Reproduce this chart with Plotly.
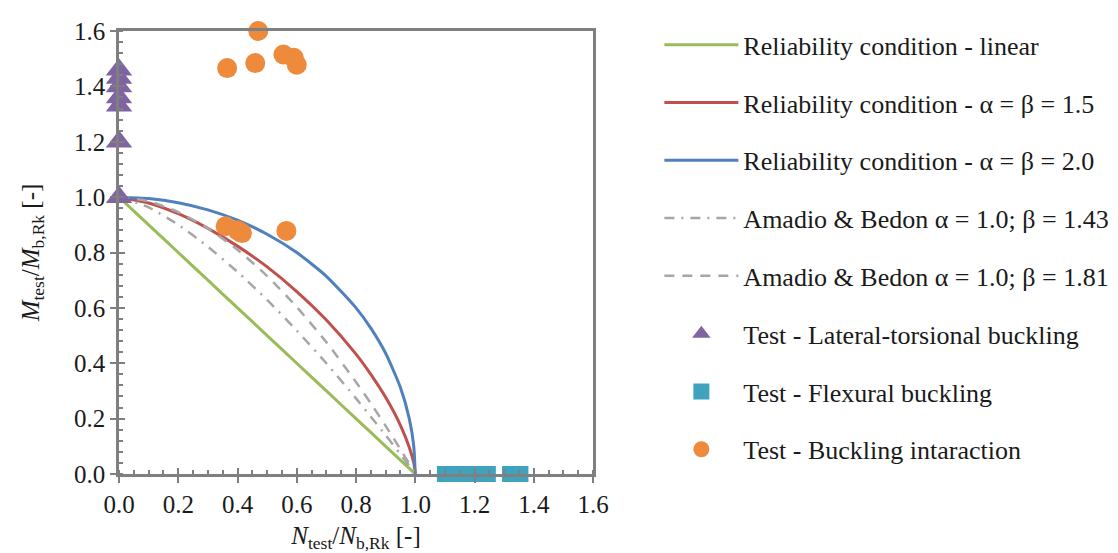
import plotly.graph_objects as go

# ---- data ----
n_curve = [0.0, 0.1, 0.2, 0.3, 0.4, 0.5, 0.6, 0.7, 0.8, 0.85, 0.9, 0.95, 0.98, 0.995, 1.0]
m_linear = [1.0, 0.9, 0.8, 0.7, 0.6, 0.5, 0.4, 0.3, 0.2, 0.15, 0.1, 0.05, 0.02, 0.005, 0.0]
m_ab15 = [1.0, 0.979, 0.940, 0.887, 0.823, 0.748, 0.659, 0.556, 0.433, 0.360, 0.277, 0.176, 0.096, 0.040, 0.0]
m_ab20 = [1.0, 0.995, 0.980, 0.954, 0.917, 0.866, 0.800, 0.714, 0.600, 0.527, 0.436, 0.312, 0.199, 0.100, 0.0]
m_b143 = [1.0, 0.963, 0.900, 0.821, 0.730, 0.629, 0.518, 0.400, 0.273, 0.207, 0.140, 0.071, 0.029, 0.007, 0.0]
m_b181 = [1.0, 0.985, 0.946, 0.887, 0.810, 0.715, 0.603, 0.476, 0.332, 0.255, 0.174, 0.089, 0.036, 0.009, 0.0]

ltb_n = [0.0, 0.0, 0.0, 0.0, 0.0, 0.0, 0.0]
ltb_m = [1.0, 1.2, 1.33, 1.36, 1.40, 1.43, 1.46]

flex_n = [1.10, 1.13, 1.16, 1.19, 1.22, 1.245, 1.32, 1.355]
flex_m = [0.0, 0.0, 0.0, 0.0, 0.0, 0.0, 0.0, 0.0]

inter_n = [0.47, 0.365, 0.46, 0.555, 0.59, 0.60, 0.36, 0.40, 0.415, 0.565]
inter_m = [1.60, 1.466, 1.484, 1.515, 1.503, 1.478, 0.895, 0.88, 0.87, 0.878]

labels = [
    "Reliability condition - linear",
    "Reliability condition - α = β = 1.5",
    "Reliability condition - α = β = 2.0",
    "Amadio & Bedon α = 1.0; β = 1.43",
    "Amadio & Bedon α = 1.0; β = 1.81",
    "Test - Lateral-torsional buckling",
    "Test - Flexural buckling",
    "Test - Buckling intaraction",
]

FONT = "Liberation Serif, Times New Roman, serif"
AX = "#7f7f7f"
TXT = "#1a1a1a"

fig = go.Figure()

def line(y, name, color, dash="solid", width=3):
    fig.add_trace(go.Scatter(
        x=n_curve, y=y, name=name, mode="lines", legendgroup=name,
        line=dict(color=color, width=width, dash=dash, shape="spline", smoothing=0.6),
        cliponaxis=False))

line(m_linear, labels[0], "#9BBB59")
line(m_ab15, labels[1], "#C0504D")
line(m_ab20, labels[2], "#4F81BD")
line(m_b143, labels[3], "#A6A6A6", dash="10px,7px,2px,7px", width=2.5)
line(m_b181, labels[4], "#A6A6A6", dash="10px,8px", width=2.5)

fig.add_trace(go.Scatter(x=ltb_n, y=ltb_m, name=labels[5], mode="markers", legendgroup=labels[5],
                         marker=dict(symbol="triangle-up", size=23, color="#8064A2"), cliponaxis=False))
fig.add_trace(go.Scatter(x=flex_n, y=flex_m, name=labels[6], mode="markers", legendgroup=labels[6],
                         marker=dict(symbol="square", size=16, color="#3FA3BD"), cliponaxis=False))
fig.add_trace(go.Scatter(x=inter_n, y=inter_m, name=labels[7], mode="markers", legendgroup=labels[7],
                         marker=dict(symbol="circle", size=20, color="#EE8A3C"), cliponaxis=False))

axis_common = dict(
    range=[0, 1.6], dtick=0.2, tickformat=".1f", showgrid=False, zeroline=False,
    showline=True, linecolor=AX, linewidth=2.5, mirror=True, automargin=False,
    ticks="outside", ticklen=6, tickwidth=2, tickcolor=AX,
    tickfont=dict(family=FONT, size=25, color=TXT),
)

fig.update_layout(
    width=1118, height=553,
    paper_bgcolor="white", plot_bgcolor="white",
    margin=dict(l=111, r=533, t=23, b=87),
    font=dict(family=FONT, size=26, color=TXT),
    xaxis=dict(**axis_common,
               minor=dict(dtick=0.05, ticks="inside", ticklen=4, tickwidth=1.5, tickcolor=AX),
               title=dict(text="<i>N</i><sub>test</sub>/<i>N</i><sub>b,Rk</sub> [-]",
                          font=dict(family=FONT, size=25, color=TXT), standoff=10)),
    yaxis=dict(**axis_common,
               minor=dict(dtick=0.04, ticks="inside", ticklen=4, tickwidth=1.5, tickcolor=AX),
               title=dict(text="<i>M</i><sub>test</sub>/<i>M</i><sub>b,Rk</sub> [-]",
                          font=dict(family=FONT, size=25, color=TXT), standoff=28)),
    xaxis2=dict(overlaying="x", range=[0, 1.6], dtick=0.2, showgrid=False, zeroline=False,
                showticklabels=False, ticks="inside", ticklen=6, tickwidth=2, tickcolor=AX,
                showline=False, side="bottom", automargin=False),
    yaxis2=dict(overlaying="y", range=[0, 1.6], dtick=0.2, showgrid=False, zeroline=False,
                showticklabels=False, ticks="inside", ticklen=6, tickwidth=2, tickcolor=AX,
                showline=False, side="left", automargin=False),
    legend=dict(x=1.14, y=1.022, xanchor="left", yanchor="top",
                traceorder="grouped", tracegroupgap=21, itemwidth=74,
                maxheight=540,
                font=dict(family=FONT, size=26, color=TXT),
                bgcolor="rgba(0,0,0,0)"),
    showlegend=True,
)

fig.add_trace(go.Scatter(x=[None], y=[None], xaxis="x2", yaxis="y2", showlegend=False,
                         hoverinfo="skip"))

fig.write_html("out.html")
